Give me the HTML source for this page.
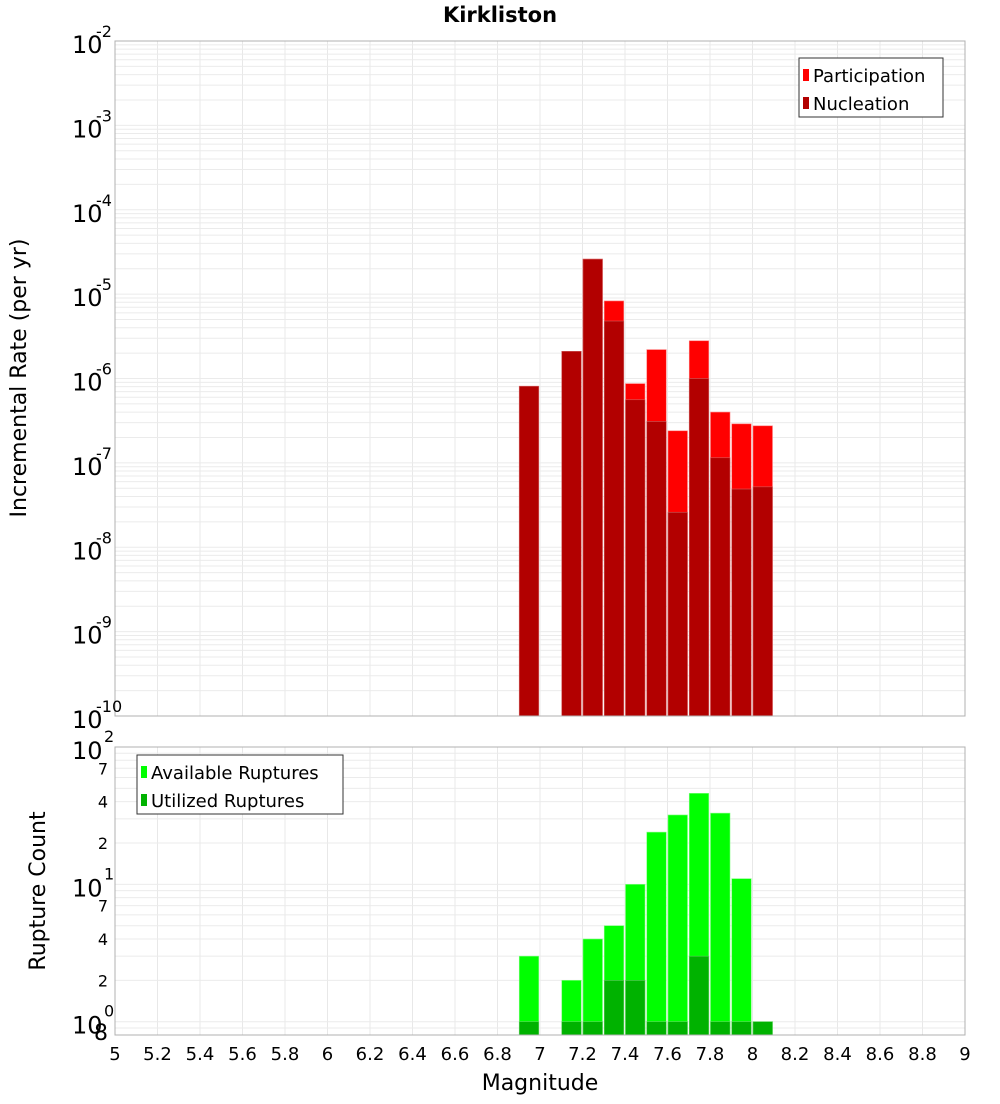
<!DOCTYPE html>
<html><head><meta charset="utf-8"><style>
body{margin:0;background:#fff;font-family:"DejaVu Sans","Liberation Sans",sans-serif}
svg text{font-family:"DejaVu Sans","Liberation Sans",sans-serif}
</style></head><body>
<svg id="c" width="1000" height="1100" xmlns="http://www.w3.org/2000/svg"></svg>
<script>
const bins=[6.9,7.1,7.2,7.3,7.4,7.5,7.6,7.7,7.8,7.9,8.0];
const participation=[8.1e-7,2.1e-6,2.6e-5,8.3e-6,8.7e-7,2.2e-6,2.4e-7,2.8e-6,4.0e-7,2.9e-7,2.75e-7];
const nucleation=[8.1e-7,2.1e-6,2.6e-5,4.8e-6,5.6e-7,3.1e-7,2.6e-8,1.0e-6,1.15e-7,4.9e-8,5.2e-8];
const available=[3,2,4,5,10,24,32,46,33,11,1];
const utilized=[1,1,1,2,2,1,1,3,1,1,1];
const xTicks=[5,5.2,5.4,5.6,5.8,6,6.2,6.4,6.6,6.8,7,7.2,7.4,7.6,7.8,8,8.2,8.4,8.6,8.8,9];

const svg=document.getElementById('c');const NS='http://www.w3.org/2000/svg';
function el(t,a,p){const e=document.createElementNS(NS,t);for(const k in a)e.setAttribute(k,a[k]);(p||svg).appendChild(e);return e;}
const X0=115,X1=965;
const x=v=>X0+(v-5)/4*(X1-X0);
const T0=41,T1=716; const yT=v=>T0+(-2-Math.log10(v))/8*(T1-T0);
const B0=747,B1=1035; const lmin=Math.log10(0.8); const yB=v=>B0+(2-Math.log10(v))/(2-lmin)*(B1-B0);

function grid(top,bot,yf,dmin,dmax,minVal){
  const g=el('g',{});
  
  xTicks.forEach(t=>el('line',{x1:x(t),x2:x(t),y1:top,y2:bot,stroke:'#e8e8e8'},g));
  for(let d=dmin;d<dmax;d++)for(let m=1;m<10;m++){const v=m*Math.pow(10,d);if(v<minVal)continue;const yy=yf(v);if(yy>bot||yy<top)continue;el('line',{x1:X0,x2:X1,y1:yy,y2:yy,stroke:'#ebebeb'},g);}
}
grid(T0,T1,yT,-10,-2,1e-10);
grid(B0,B1,yB,-1,2,0.8);

// top bars
const bw=19.5;
bins.forEach((b,i)=>{
  let r=el('rect',{x:x(b)+0.5,y:yT(participation[i]),width:bw,height:T1-yT(participation[i]),fill:'#ff0000',stroke:'#ff8080','stroke-width':0.6});
  
  r=el('rect',{x:x(b)+0.5,y:yT(nucleation[i]),width:bw,height:T1-yT(nucleation[i]),fill:'#b20000',stroke:'#d06060','stroke-width':0.6});
  
});
bins.forEach((b,i)=>{
  let r=el('rect',{x:x(b)+0.5,y:yB(available[i]),width:bw,height:B1-yB(available[i]),fill:'#00ff00',stroke:'#80ff80','stroke-width':0.6});
  
  r=el('rect',{x:x(b)+0.5,y:yB(utilized[i]),width:bw,height:B1-yB(utilized[i]),fill:'#00b200',stroke:'#60d060','stroke-width':0.6});
  
});
// frames
let f=el('rect',{x:X0,y:T0,width:X1-X0,height:T1-T0,fill:'none',stroke:'#b0b0b0'});

f=el('rect',{x:X0,y:B0,width:X1-X0,height:B1-B0,fill:'none',stroke:'#b0b0b0'});


function txt(s,a,name){const t=el('text',a);t.textContent=s;return t;}
txt('Kirkliston',{x:500,y:22,'text-anchor':'middle','font-size':21,'font-weight':'bold'},'chart-title');
// top y ticks
for(let d=-2;d>=-10;d--){const yy=yT(Math.pow(10,d));
  txt('10',{x:72,y:yy+12,'font-size':24},'y-tick-top');
  txt(String(d),{x:96,y:yy-4,'font-size':16},'y-tick-top-exp');}
// bottom y ticks
[[100,'2'],[10,'1'],[1,'0']].forEach(([v,e])=>{const yy=yB(v);txt('10',{x:72,y:yy+12,'font-size':24},'y-tick-bottom');txt(e,{x:104,y:yy-5,'font-size':16},'y-tick-bottom-exp');});
[7,4,2,70,40,20].forEach(v=>{const yy=yB(v);txt(String(v<10?v:v/10),{x:108,y:yy+6,'font-size':16,'text-anchor':'end'},'y-minor-tick');});
txt('8',{x:108,y:yB(0.8)+5,'font-size':22,'text-anchor':'end'},'y-minor-tick');
xTicks.forEach(t=>txt(String(t),{x:x(t),y:1060,'font-size':18,'text-anchor':'middle'},'x-tick'));
txt('Magnitude',{x:540,y:1090,'font-size':22,'text-anchor':'middle'},'x-axis-title');
txt('Incremental Rate (per yr)',{x:0,y:0,'font-size':22,'text-anchor':'middle',transform:'translate(26,378) rotate(-90)'},'y-axis-title-top');
txt('Rupture Count',{x:0,y:0,'font-size':22,'text-anchor':'middle',transform:'translate(45,891) rotate(-90)'},'y-axis-title-bottom');
// legends
function legend(x0,y0,w,h,items,name){const g=el('g',{});
  el('rect',{x:x0,y:y0,width:w,height:h,fill:'#fff',stroke:'#333'},g);
  items.forEach(([c,s],i)=>{el('rect',{x:x0+4,y:y0+11+i*28,width:6,height:12,fill:c},g);const t=el('text',{x:x0+14,y:y0+24+i*28,'font-size':18},g);t.textContent=s;});}
legend(799,58,144,59,[['#ff0000','Participation'],['#b20000','Nucleation']],'top-legend');
legend(137,755,206,59,[['#00ff00','Available Ruptures'],['#00b200','Utilized Ruptures']],'bottom-legend');
</script>
</body></html>
